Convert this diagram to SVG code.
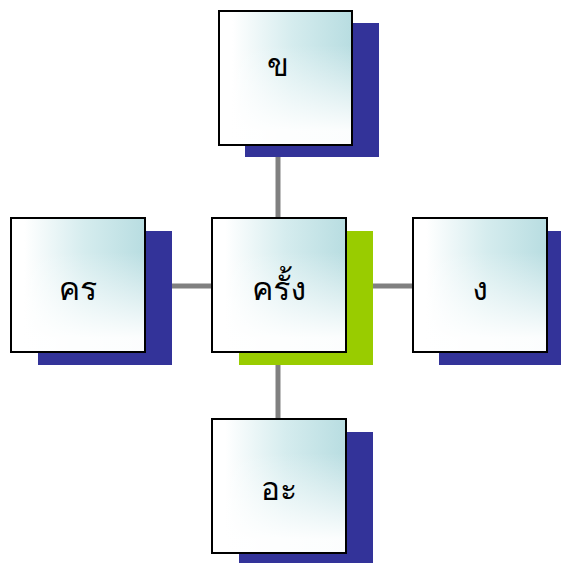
<svg xmlns="http://www.w3.org/2000/svg" width="561" height="563" viewBox="0 0 561 563">
<style>
.box{stroke:#000;stroke-width:2;fill:url(#gh)}
.ov{fill:url(#gv)}
.sh{fill:#333399}
.shg{fill:#99cc00}
.lbl{font-family:"Loma","Garuda","Norasi","Noto Sans Thai Looped","Noto Serif Thai",sans-serif;font-size:32px;font-weight:300;fill:#000;text-anchor:middle}
.con{stroke:#808080;stroke-width:5;fill:none}
</style>
<defs>
<linearGradient id="gh" x1="0" y1="0" x2="1" y2="0">
<stop offset="0.1" stop-color="#ffffff"/>
<stop offset="0.55" stop-color="#d5ecee"/>
<stop offset="1" stop-color="#b8dde1"/>
</linearGradient>
<linearGradient id="gv" x1="0" y1="0" x2="0" y2="1">
<stop offset="0.25" stop-color="#ffffff" stop-opacity="0"/>
<stop offset="0.9" stop-color="#ffffff" stop-opacity="0.95"/>
</linearGradient>
</defs>
<rect width="561" height="563" fill="#fff"/>
<g id="connectors">
<line class="con" x1="278" y1="145" x2="278" y2="217"/>
<line class="con" x1="278" y1="352" x2="278" y2="418"/>
<line class="con" x1="146" y1="286" x2="212" y2="286"/>
<line class="con" x1="346" y1="286" x2="412" y2="286"/>
</g>
<g id="n-top">
<rect class="sh" x="245" y="23" width="134" height="134"/>
<rect class="box" x="219" y="11" width="133" height="134"/>
<rect class="ov" x="220" y="12" width="131" height="132"/>
<text class="lbl" x="278" y="76">ข</text>
</g>
<g id="n-left">
<rect class="sh" x="38" y="231" width="134" height="134"/>
<rect class="box" x="11" y="218" width="134" height="134"/>
<rect class="ov" x="12" y="219" width="132" height="132"/>
<text class="lbl" x="78" y="300">คร</text>
</g>
<g id="n-center">
<rect class="shg" x="239" y="231" width="134" height="134"/>
<rect class="box" x="212" y="218" width="134" height="134"/>
<rect class="ov" x="213" y="219" width="132" height="132"/>
<text class="lbl" x="279" y="300">ครั้ง</text>
</g>
<g id="n-right">
<rect class="sh" x="439" y="231" width="134" height="134"/>
<rect class="box" x="413" y="218" width="134" height="134"/>
<rect class="ov" x="414" y="219" width="132" height="132"/>
<text class="lbl" x="480" y="300">ง</text>
</g>
<g id="n-bottom">
<rect class="sh" x="239" y="432" width="134" height="134"/>
<rect class="box" x="212" y="419" width="134" height="134"/>
<rect class="ov" x="213" y="420" width="132" height="132"/>
<text class="lbl" x="279" y="500">อะ</text>
</g>
</svg>
